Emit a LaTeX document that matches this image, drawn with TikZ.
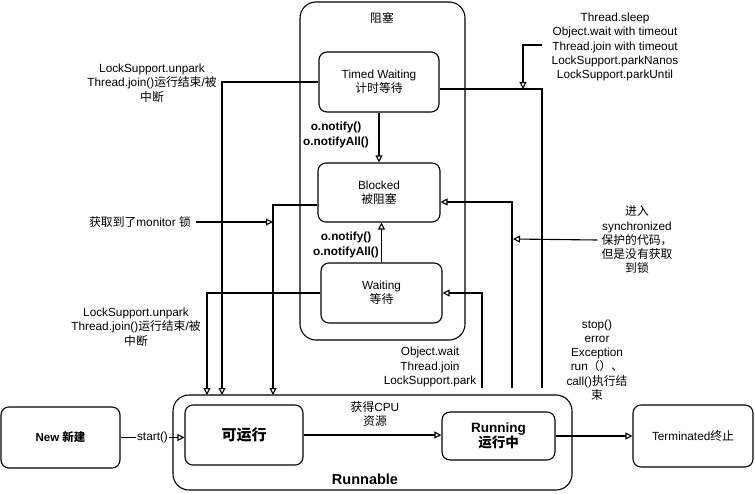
\documentclass[tikz,border=0pt]{standalone}
\usepackage{fontspec}
\setmainfont{Liberation Sans}
\newfontfamily\cjk{Noto Sans CJK SC}
\usetikzlibrary{arrows.meta,calc}
\newcommand\zh[1]{{\cjk #1}}
\begin{document}
\begin{tikzpicture}[x=1pt,y=-1pt,
  box/.style={draw,line width=1.1pt,rounded corners=8pt,align=center,inner sep=0pt,font=\fontsize{11.8}{14}\selectfont},
  cont/.style={draw,line width=1.1pt,rounded corners=16pt,inner sep=0pt},
  lbl/.style={align=center,font=\fontsize{11.8}{14.3}\selectfont,inner sep=0pt},
  conn/.style={line width=1.1pt},
  arr/.style={conn,-{Triangle[open,length=7pt,width=7pt]}}
]
\useasboundingbox (0,0) rectangle (755,493);

% containers
\node[cont,minimum width=165pt,minimum height=338pt] (blk) at (382.5,171) {};
\node[lbl] (blkt) at (382,18) {\zh{阻塞}};
\node[cont,minimum width=399pt,minimum height=95pt] (rb) at (372.5,442.5) {};
\node[font=\bfseries\fontsize{14.5}{16}\selectfont,inner sep=0pt] (rbt) at (365,479) {Runnable};

% states
\node[box,minimum width=120pt,minimum height=60pt] (tw) at (379,82) {Timed Waiting\\\zh{计时等待}};
\node[box,minimum width=122pt,minimum height=59pt] (bl) at (379,192.5) {Blocked\\\zh{被阻塞}};
\node[box,minimum width=121pt,minimum height=60pt] (wt) at (381.5,293) {Waiting\\\zh{等待}};
\node[box,minimum width=118pt,minimum height=60pt,font=\bfseries\fontsize{15}{17}\selectfont] (kyx) at (244,435) {\zh{可运行}};
\node[box,minimum width=113pt,minimum height=48pt,font=\bfseries\fontsize{13.5}{15.5}\selectfont] (run) at (498.5,436) {Running\\\zh{运行中}};
\node[box,minimum width=120pt,minimum height=62pt] (term) at (693,436) {Terminated\zh{终止}};
\node[box,minimum width=119pt,minimum height=61pt,font=\bfseries\fontsize{11.5}{14}\selectfont] (new) at (60.5,437.5) {New \zh{新建}};

% labels
\node[lbl] (sleep) at (615,47) {Thread.sleep\\Object.wait with timeout\\Thread.join with timeout\\LockSupport.parkNanos\\LockSupport.parkUntil};
\node[lbl] (unp1) at (152,83) {LockSupport.unpark\\Thread.join()\zh{运行结束}/\zh{被}\\\zh{中断}};
\node[lbl] (mon) at (140,222) {\zh{获取到了}monitor \zh{锁}};
\node[lbl] (sync) at (637,240) {\zh{进入}\\synchronized\\\zh{保护的代码，}\\\zh{但是没有获取}\\\zh{到锁}};
\node[lbl] (unp2) at (136,327) {LockSupport.unpark\\Thread.join()\zh{运行结束}/\zh{被}\\\zh{中断}};
\node[lbl] (owait) at (430,367) {Object.wait\\Thread.join\\LockSupport.park};
\node[lbl] (stop) at (597,360) {stop()\\error\\Exception\\run\zh{（）、}\\call()\zh{执行结}\\\zh{束}};
\node[lbl] (cpu) at (375,414) {\zh{获得}CPU\\\zh{资源}};
\node[lbl,font=\bfseries\fontsize{11.8}{14.3}\selectfont] (n1) at (336,135) {o.notify()\\o.notifyAll()};
\node[lbl,font=\bfseries\fontsize{11.8}{14.3}\selectfont] (n2) at (346,245) {o.notify()\\o.notifyAll()};

% coordinates
\coordinate (r1) at (222,395);
\coordinate (r2) at (273,395);
\coordinate (r3) at (207,395);
\coordinate (s1) at (542,388);
\coordinate (s2) at (512,388);
\coordinate (s3) at (482,388);
\coordinate (sl) at (542,45);
\coordinate (sl2) at (523,89);
\coordinate (m2) at (273,222);
\coordinate (y2) at (513,239);

% main flow
\draw[arr] (new.east) -- (new.east -| kyx.west) node[midway,fill=white,inner sep=1pt,font=\fontsize{11.8}{14}\selectfont] {start()};
\draw[arr] (kyx.east) -- (kyx.east -| run.west);
\draw[arr] (run.east) -- (run.east -| term.west);

% inside blocking
\draw[arr] (tw.south) -- (tw.south |- bl.north);
\draw[arr] (wt.north) -- (wt.north |- bl.south);

% back to runnable
\draw[arr] (tw.west) -| (r1);
\draw[arr] ([yshift=-12.5pt]bl.west) -| (r2);
\draw[arr] (wt.west) -| (r3);

% from runnable
\draw[conn] (s1) |- ([yshift=-7pt]tw.east);
\draw[arr] (s2) |- ([yshift=-9.5pt]bl.east);
\draw[arr] (s3) |- (wt.east);

% label pointers
\draw[arr] (sl) -| (sl2);
\draw[arr] ([xshift=5pt]mon.east) -- (m2);
\draw[arr] ([xshift=-4pt]sync.west) -- (y2);
\end{tikzpicture}
\end{document}
